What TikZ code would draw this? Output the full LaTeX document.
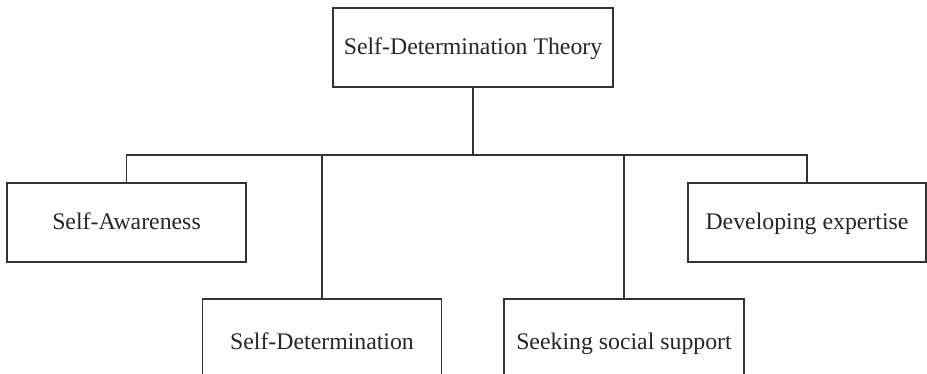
\documentclass[tikz,border=0pt]{standalone}
\usepackage{fontspec}
\setmainfont{Liberation Serif}
\tikzset{
    box/.style={draw=black!80, line width=1.4pt, minimum height=79pt, inner sep=0pt, text height=20pt, text depth=5pt, font=\fontsize{23.8}{28}\selectfont, text=black!85},
    lowbox/.style={box, minimum height=86pt},
    link/.style={draw=black!80, line width=1.4pt}
}
\begin{document}
\begin{tikzpicture}[x=1pt, y=-1pt, line join=miter, line cap=rect]
        \clip (0,0) rectangle (927,374);
        \node [box, minimum width=280pt] (theory) at (473,47.5) {Self-Determination Theory};
        \node [box, minimum width=239pt] (aware) at (126.5,222.5) {Self-Awareness};
        \node [lowbox, minimum width=239pt] (determ) at (322,342) {Self-Determination};
        \node [lowbox, minimum width=240pt] (seek) at (624,342) {Seeking social support};
        \node [box, minimum width=238pt] (expert) at (807,222.5) {Developing expertise};
        \coordinate (bus) at (473,155);
        
        \draw[link] (theory.south)--(bus);
        \draw[link] (bus) -| (aware.north);
        \draw[link] (bus) -| (determ.north);
        \draw[link] (bus) -| (seek.north);
        \draw[link] (bus) -| (expert.north);
    \end{tikzpicture}
\end{document}
